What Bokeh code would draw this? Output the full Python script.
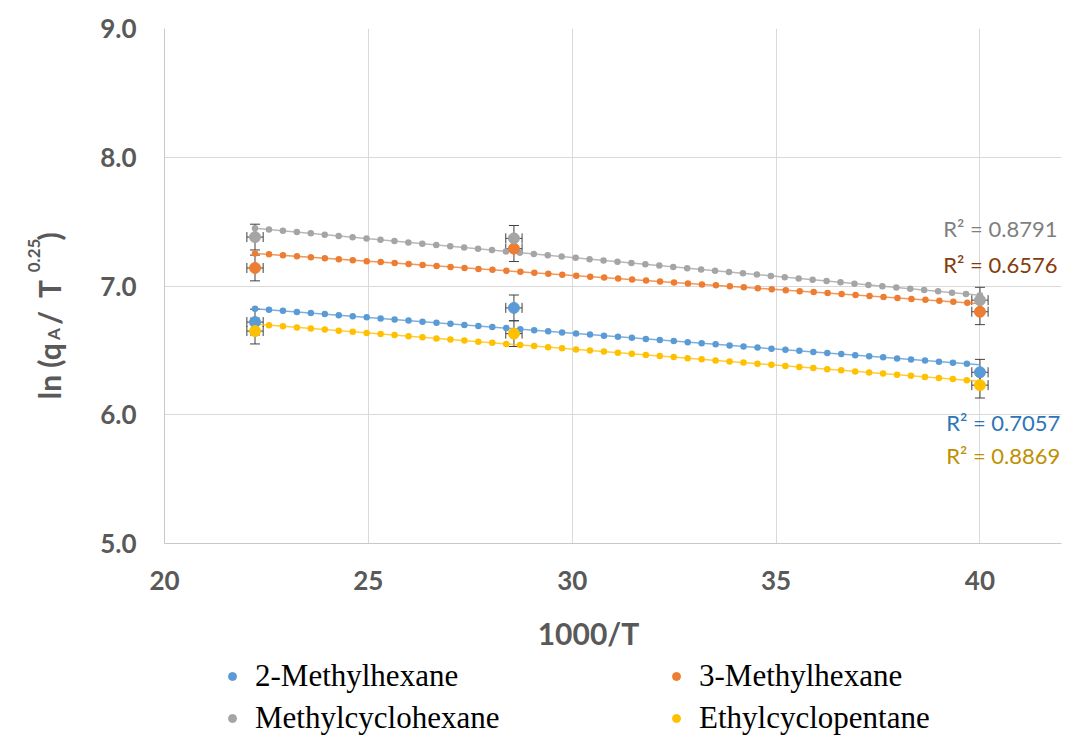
import numpy as np
from bokeh.plotting import figure
from bokeh.models import (ColumnDataSource, Whisker, TeeHead, Label, Legend, LegendItem,
                          FixedTicker, NumeralTickFormatter, Range1d)
from bokeh.layouts import column, row
from bokeh.embed import file_html
from bokeh.resources import INLINE

# ---------------- data ----------------
inv_T = [22.22, 28.57, 40.0]          # 1000/T
series_names = ["2-Methylhexane", "3-Methylhexane", "Methylcyclohexane", "Ethylcyclopentane"]
methyl2 = [6.72, 6.83, 6.33]
methyl3 = [7.14, 7.29, 6.80]
mch = [7.38, 7.37, 6.89]
ecp = [6.65, 6.63, 6.23]
r2_text = ["R² = 0.7057", "R² = 0.6576", "R² = 0.8791", "R² = 0.8869"]
x_err = 0.2
y_err = 0.1
x_ticks = [20, 25, 30, 35, 40]
y_ticks = [5, 6, 7, 8, 9]

series_vals = [methyl2, methyl3, mch, ecp]
colors = ["#5B9BD5", "#ED7D31", "#A5A5A5", "#FFC000"]
r2_colors = ["#2E75B6", "#843C0C", "#7F7F7F", "#BF9000"]

# ---------------- layout geometry (pixels) ----------------
W, H = 1080, 736
LW = 80            # width of left strip holding the y title
MH = 600           # height of main figure
X0, X1, Y0, Y1 = 20, 42, 5, 9

p = figure(width=W - LW, height=MH, x_range=(X0, X1), y_range=(Y0, Y1),
           output_backend="svg", toolbar_location=None,
           min_border_left=84, min_border_right=19, min_border_top=28, min_border_bottom=57)
p.outline_line_color = None
p.background_fill_color = "white"
p.border_fill_color = "white"

for ax in (p.xaxis[0], p.yaxis[0]):
    ax.axis_line_color = "#C8C8C8"
    ax.major_tick_line_color = None
    ax.minor_tick_line_color = None
    ax.major_tick_out = 0
    ax.major_tick_in = 0
    ax.major_label_text_font = "Lato"
    ax.major_label_text_font_style = "bold"
    ax.major_label_text_font_size = "26px"
    ax.major_label_text_color = "#595959"
p.xaxis.ticker = FixedTicker(ticks=x_ticks)
p.yaxis.ticker = FixedTicker(ticks=y_ticks)
p.yaxis.formatter = NumeralTickFormatter(format="0.0")
p.xaxis.major_label_standoff = 27
p.yaxis.major_label_standoff = 28
p.xgrid.ticker = FixedTicker(ticks=x_ticks)
p.ygrid.ticker = FixedTicker(ticks=y_ticks)
p.xgrid.grid_line_color = "#D9D9D9"
p.ygrid.grid_line_color = "#D9D9D9"

xs = np.array(inv_T)
for name, vals, col in zip(series_names, series_vals, colors):
    ys = np.array(vals)
    k, b = np.polyfit(xs, ys, 1)
    tx = [xs.min(), xs.max()]
    ty = [k * tx[0] + b, k * tx[1] + b]
    p.line(tx, ty, line_color=col, line_width=1.5, line_alpha=0.8)
    p.line(tx, ty, line_color=col, line_width=6.5, line_cap="round", line_dash="0 14")

for name, vals, col in zip(series_names, series_vals, colors):
    src = ColumnDataSource(dict(x=inv_T, y=vals,
                                xl=[v - x_err for v in inv_T], xu=[v + x_err for v in inv_T],
                                yl=[v - y_err for v in vals], yu=[v + y_err for v in vals]))
    for base, lo, up, dim in (("x", "yl", "yu", "height"), ("y", "xl", "xu", "width")):
        p.add_layout(Whisker(source=src, base=base, lower=lo, upper=up, dimension=dim,
                             line_color="#404040", line_width=1,
                             upper_head=TeeHead(size=10, line_color="#404040", line_width=1),
                             lower_head=TeeHead(size=10, line_color="#404040", line_width=1)))
    p.scatter("x", "y", source=src, size=11, fill_color=col, line_color=col)

# R² labels (right-aligned inside the plot area)
r2_pos = [(41.97, 5.94), (41.9, 7.17), (41.9, 7.45), (41.97, 5.68)]
for txt, col, (lx, ly) in zip(r2_text, r2_colors, r2_pos):
    p.add_layout(Label(x=lx, y=ly, text=txt, text_color=col, text_font="Lato",
                       text_font_size="22px", text_align="right", text_baseline="middle"))

# ---------------- left strip: y-axis title with sub/superscripts ----------------
yl = figure(width=LW, height=MH, x_range=Range1d(0, LW), y_range=Range1d(MH, 0),
            output_backend="svg", toolbar_location=None, x_axis_type=None, y_axis_type=None,
            min_border=0)
yl.outline_line_color = None
yl.border_fill_color = "white"
yl.background_fill_color = "white"
# (text, start pixel from top, baseline pixel from left, font size)
ylab = [("ln (q", 432, 48, 30), ("A", 363, 53, 17), ("/", 345, 48, 30),
        ("T", 314, 48, 30), ("0.25", 284, 33, 17), (")", 247, 48, 30)]
for txt, py, px, fs in ylab:
    yl.add_layout(Label(x=px, y=py, text=txt, angle=90, angle_units="deg",
                        text_font="Lato", text_font_style="bold", text_font_size=f"{fs}px",
                        text_color="#595959", text_align="left", text_baseline="alphabetic"))

# ---------------- bottom strip: x-axis title and legend ----------------
BH = H - MH
lg = figure(width=W, height=BH, x_range=Range1d(0, W), y_range=Range1d(BH, 0),
            output_backend="svg", toolbar_location=None, x_axis_type=None, y_axis_type=None,
            min_border=0)
lg.outline_line_color = None
lg.border_fill_color = "white"
lg.background_fill_color = "white"
lg.add_layout(Label(x=588, y=32, text="1000/T", text_font="Lato",
                    text_font_style="bold", text_font_size="30px", text_color="#595959",
                    text_align="center", text_baseline="middle"))

dummies = {}
for n, col in zip(series_names, colors):
    dummies[n] = lg.scatter(x=[-1000], y=[-1000], size=11, fill_color=col, line_color=col)
order = ["2-Methylhexane", "Methylcyclohexane", "3-Methylhexane", "Ethylcyclopentane"]
items = [LegendItem(label=n, renderers=[dummies[n]]) for n in order]
leg = Legend(items=items, ncols=2, location=(222, 0), padding=0, margin=0, spacing=6,
             glyph_width=20, glyph_height=20, label_standoff=13, label_width=405, label_height=30,
             label_text_font="Liberation Serif", label_text_font_size="31px",
             label_text_color="black", border_line_color=None, background_fill_alpha=0)
lg.add_layout(leg, "center")

layout = column(row(yl, p), lg)
open("out.html", "w").write(file_html(layout, INLINE))
